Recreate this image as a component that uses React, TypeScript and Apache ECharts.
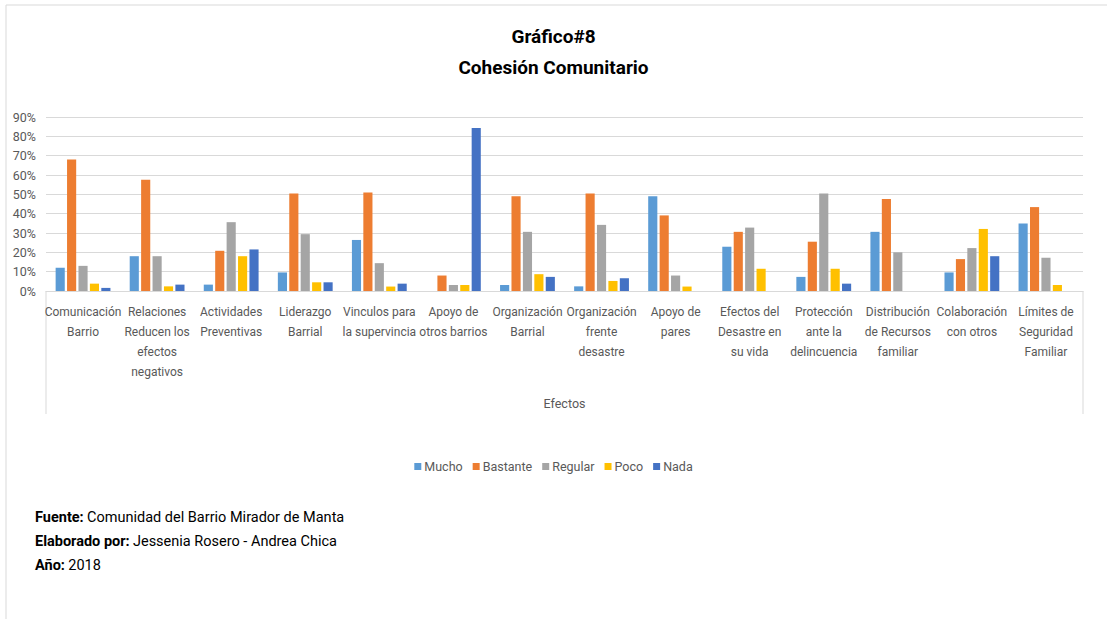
import React, { useEffect, useRef } from "react";
import * as echarts from "echarts";

const categories = [
  "Comunicación\nBarrio",
  "Relaciones\nReducen los\nefectos\nnegativos",
  "Actividades\nPreventivas",
  "Liderazgo\nBarrial",
  "Vinculos para\nla supervincia",
  "Apoyo de\notros barrios",
  "Organización\nBarrial",
  "Organización\nfrente\ndesastre",
  "Apoyo de\npares",
  "Efectos del\nDesastre en\nsu vida",
  "Protección\nante la\ndelincuencia",
  "Distribución\nde Recursos\nfamiliar",
  "Colaboración\ncon otros",
  "Límites de\nSeguridad\nFamiliar",
];

const mucho = [0.12, 0.18, 0.033, 0.096, 0.264, 0, 0.031, 0.024, 0.49, 0.229, 0.073, 0.306, 0.096, 0.349];
const bastante = [0.68, 0.575, 0.208, 0.504, 0.51, 0.08, 0.49, 0.504, 0.391, 0.306, 0.255, 0.476, 0.165, 0.434];
const regular = [0.13, 0.18, 0.356, 0.294, 0.144, 0.031, 0.306, 0.342, 0.08, 0.328, 0.504, 0.2, 0.222, 0.172];
const poco = [0.038, 0.024, 0.18, 0.045, 0.023, 0.031, 0.087, 0.052, 0.023, 0.115, 0.115, 0, 0.321, 0.031];
const nada = [0.016, 0.033, 0.215, 0.045, 0.038, 0.843, 0.073, 0.066, 0, 0, 0.038, 0, 0.18, 0];

const seriesNames = ["Mucho", "Bastante", "Regular", "Poco", "Nada"];
const seriesColors = ["#5B9BD5", "#ED7D31", "#A5A5A5", "#FFC000", "#4472C4"];
const seriesData = [mucho, bastante, regular, poco, nada];

const yTicksMax = 0.9;
const yInterval = 0.1;

const FONT = "Roboto, 'Noto Sans', sans-serif";

export default function App() {
  const ref = useRef<HTMLDivElement>(null);
  useEffect(() => {
    if (!ref.current) return;
    const chart = echarts.init(ref.current, null, { renderer: "svg" });
    chart.setOption({
      animation: false,
      backgroundColor: "#ffffff",
      title: {
        text: "Gráfico#8\nCohesión Comunitario",
        left: "center",
        top: 16,
        textStyle: {
          fontFamily: FONT,
          fontWeight: "bold",
          fontSize: 19,
          lineHeight: 31,
          color: "#000000",
        },
      },
      legend: {
        data: seriesNames,
        bottom: 619 - 478,
        left: "center",
        itemWidth: 7,
        itemHeight: 7,
        itemGap: 10,
        icon: "rect",
        textStyle: { fontFamily: FONT, fontSize: 12.5, color: "#595959", padding: [0, 0, 0, -2] },
      },
      grid: { left: 46, right: 24, top: 117, bottom: 328, containLabel: false },
      xAxis: {
        type: "category",
        data: categories,
        name: "Efectos",
        nameLocation: "middle",
        nameGap: 106,
        nameTextStyle: { fontFamily: FONT, fontSize: 12.5, color: "#595959" },
        axisLine: { show: true, lineStyle: { color: "#d9d9d9" } },
        axisTick: { show: false },
        axisLabel: {
          interval: 0,
          margin: 11,
          fontFamily: FONT,
          fontSize: 12,
          lineHeight: 20,
          color: "#595959",
          verticalAlign: "top",
        },
      },
      yAxis: {
        type: "value",
        min: 0,
        max: yTicksMax,
        interval: yInterval,
        axisLine: { show: false },
        axisTick: { show: false },
        axisLabel: {
          margin: 10,
          fontFamily: FONT,
          fontSize: 12.5,
          color: "#595959",
          formatter: (v: number) => Math.round(v * 100) + "%",
        },
        splitLine: { lineStyle: { color: "#d9d9d9", width: 1 } },
      },
      series: seriesNames.map((n, i) => ({
        name: n,
        type: "bar",
        data: seriesData[i],
        itemStyle: { color: seriesColors[i] },
        barGap: "25%",
        barCategoryGap: "26%",
      })),
      graphic: [
        { type: "line", shape: { x1: 6, y1: 5, x2: 1107, y2: 5 }, style: { stroke: "#d9d9d9", lineWidth: 1 } },
        { type: "line", shape: { x1: 6, y1: 5, x2: 6, y2: 619 }, style: { stroke: "#d9d9d9", lineWidth: 1 } },
        { type: "line", shape: { x1: 46, y1: 291, x2: 46, y2: 414 }, style: { stroke: "#d9d9d9", lineWidth: 1 } },
        { type: "line", shape: { x1: 1083, y1: 291, x2: 1083, y2: 414 }, style: { stroke: "#d9d9d9", lineWidth: 1 } },
        {
          type: "text",
          left: 35,
          top: 505,
          style: {
            text: "{b|Fuente:} {n|Comunidad del Barrio Mirador de Manta}\n{b|Elaborado por:} {n|Jessenia Rosero - Andrea Chica}\n{b|Año:} {n|2018}",
            lineHeight: 24,
            fill: "#000",
            rich: {
              b: { fontFamily: FONT, fontWeight: "bold", fontSize: 14.5, lineHeight: 24, fill: "#000" },
              n: { fontFamily: FONT, fontSize: 14.5, lineHeight: 24, fill: "#000" },
            },
          },
        },
      ],
    });
    return () => chart.dispose();
  }, []);
  return (
    <div
      ref={ref}
      style={{ position: "absolute", left: 0, top: 0, width: 1107, height: 619 }}
    />
  );
}
